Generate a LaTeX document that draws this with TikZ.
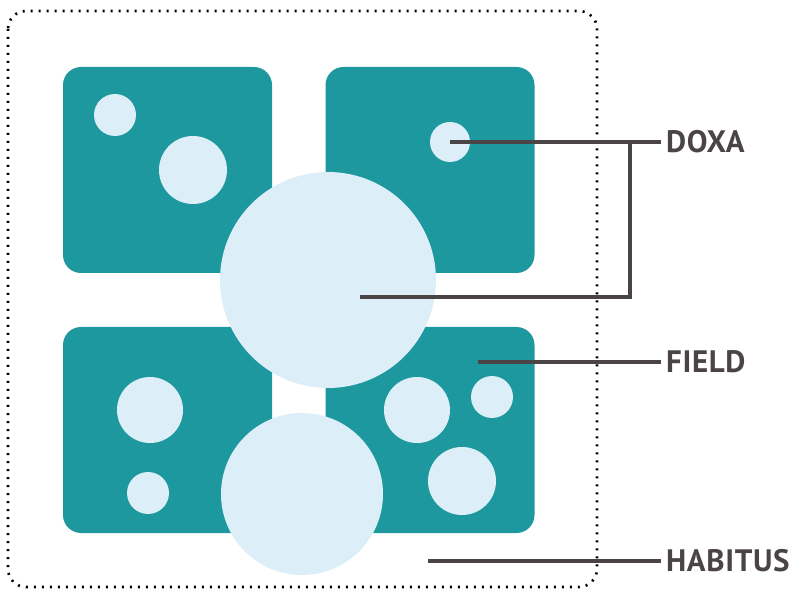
\documentclass[tikz,border=0pt]{standalone}
\usepackage{fontspec}
\setmainfont{PT Sans}
\definecolor{teal}{HTML}{1E989F}
\definecolor{bubble}{HTML}{DCEFF8}
\definecolor{ink}{HTML}{4B4446}
\begin{document}
\begin{tikzpicture}[x=1pt,y=-1pt,
  panel/.style={draw=none,fill=teal,rectangle,rounded corners=18pt,
    minimum width=209pt,minimum height=206pt,inner sep=0pt},
  bubblenode/.style={circle,fill=bubble,draw=none,inner sep=0pt,minimum size=#1},
  leader/.style={draw=ink,line width=3.2pt},
  tag/.style={anchor=west,text=ink,inner xsep=5pt,inner ysep=0pt,
    font=\addfontfeatures{LetterSpace=2}\bfseries\fontsize{31}{31}\selectfont}]
  \useasboundingbox (0,0) rectangle (795,593);

  % outer habitus frame
  \draw[line width=2.6pt,dash pattern=on 2pt off 6pt,rounded corners=18pt]
    (8,11) rectangle (597,587);

  % four fields
  \node[panel] (tl) at (167.5,170) {};
  \node[panel] (tr) at (430,170) {};
  \node[panel] (bl) at (167.5,430) {};
  \node[panel] (br) at (430,430) {};

  % positions inside the fields
  \node[bubblenode=42pt] (tl1) at (115,115) {};
  \node[bubblenode=68pt] (tl2) at (193,170) {};
  \node[bubblenode=40pt] (tr1) at (450,142) {};
  \node[bubblenode=66pt] (bl1) at (150,410) {};
  \node[bubblenode=42pt] (bl2) at (148,493) {};
  \node[bubblenode=66pt] (br1) at (417,410) {};
  \node[bubblenode=42pt] (br2) at (492,397) {};
  \node[bubblenode=68pt] (br3) at (462,481) {};

  % shared doxa and habitus bubbles
  \node[bubblenode=216pt] (doxa) at (328,280) {};
  \node[bubblenode=162pt] (hab) at (302,494) {};

  % labels
  \node[tag] (lDoxa) at (661,142) {DOXA};
  \node[tag] (lField) at (661,362) {FIELD};
  \node[tag] (lHab) at (661,561) {HABITUS};

  % leader lines
  \coordinate (doxaIn) at (360,297);
  \coordinate (brace) at (630,297);
  \coordinate (fieldIn) at (478,362);
  \coordinate (habIn) at (428,561);
  \draw[leader] (tr1.center) -- (lDoxa.west);
  \draw[leader] (doxaIn) -- (brace) -- (brace |- tr1.center);
  \draw[leader] (fieldIn) -- (lField.west);
  \draw[leader] (habIn) -- (lHab.west);
\end{tikzpicture}
\end{document}
